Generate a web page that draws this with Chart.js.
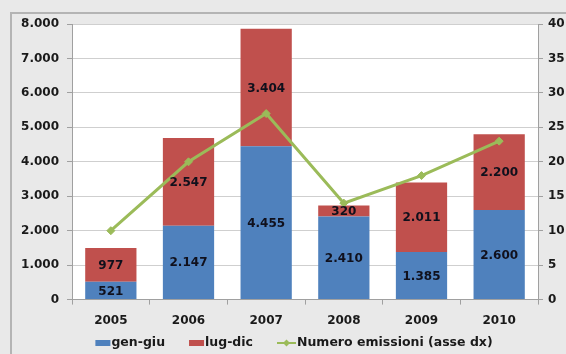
<!DOCTYPE html>
<html lang="it">
<head>
<meta charset="UTF-8">
<title>Emissioni</title>
<script src="https://cdn.jsdelivr.net/npm/chart.js"></script>
<style>
  body { margin: 0; background: #e9e9e9; }
  #wrap { width: 566px; height: 354px; position: relative; }
</style>
</head>
<body>
<div id="wrap"><canvas id="grafico" width="566" height="354"></canvas></div>
<script>
// dati
const anni = ['2005', '2006', '2007', '2008', '2009', '2010'];
const genGiu = [521, 2147, 4455, 2410, 1385, 2600];
const lugDic = [977, 2547, 3404, 320, 2011, 2200];
const numeroEmissioni = [10, 20, 27, 14, 18, 23];

const BLU = '#4f81bd', ROSSO = '#c0504d', VERDE = '#9bbb59';
const FONT = 'DejaVu Sans';

// 1234 -> "1.234"
let formatta = v => String(Math.round(v)).replace(/\B(?=(\d{3})+(?!\d))/g, '.');

// cornice grigia e area del grafico bianca
const sfondo = {
  id: 'sfondo',
  beforeDraw(chart) {
    const ctx = chart.ctx, a = chart.chartArea;
    ctx.save();
    ctx.fillStyle = '#e9e9e9';
    ctx.fillRect(0, 0, chart.width, chart.height);
    ctx.strokeStyle = '#b4b4b4';
    ctx.lineWidth = 2;
    ctx.beginPath();
    ctx.moveTo(11, chart.height);
    ctx.lineTo(11, 13);
    ctx.lineTo(chart.width, 13);
    ctx.stroke();
    ctx.fillStyle = '#ffffff';
    ctx.fillRect(a.left, a.top, a.right - a.left, a.bottom - a.top);
    ctx.restore();
  }
};

// etichette dei valori al centro di ogni segmento
const etichette = {
  id: 'etichette',
  afterDatasetsDraw(chart) {
    const ctx = chart.ctx;
    ctx.save();
    ctx.font = 'bold 12px "' + FONT + '"';
    ctx.fillStyle = '#10101c';
    ctx.textAlign = 'center';
    ctx.textBaseline = 'middle';
    [0, 1].forEach(i => {
      const meta = chart.getDatasetMeta(i);
      meta.data.forEach((bar, j) => {
        const y = (bar.y + bar.base) / 2;
        ctx.fillText(formatta(chart.data.datasets[i].data[j]), bar.x, y + 1);
      });
    });
    ctx.restore();
  }
};

// legenda in basso, disegnata a mano (stile Excel)
const legenda = {
  id: 'legenda',
  afterDraw(chart) {
    const ctx = chart.ctx;
    const y = 343;
    ctx.save();
    ctx.font = 'bold 12.5px "' + FONT + '"';
    ctx.textBaseline = 'middle';
    const voci = chart.data.datasets.map(ds => ({ testo: ds.label, colore: ds.backgroundColor, linea: ds.type === 'line' }));
    const larghezze = voci.map(v => (v.linea ? 20 : 16) + ctx.measureText(v.testo).width);
    const spazio = 24;
    let x = 294 - (larghezze.reduce((s, w) => s + w, 0) + spazio * (voci.length - 1)) / 2;
    voci.forEach((v, i) => {
      if (v.linea) {
        ctx.strokeStyle = v.colore;
        ctx.lineWidth = 2;
        ctx.beginPath();
        ctx.moveTo(x, y); ctx.lineTo(x + 19, y);
        ctx.stroke();
        ctx.fillStyle = v.colore;
        ctx.beginPath();
        ctx.moveTo(x + 9.5, y - 3.5); ctx.lineTo(x + 13, y); ctx.lineTo(x + 9.5, y + 3.5); ctx.lineTo(x + 6, y);
        ctx.closePath();
        ctx.fill();
        ctx.fillStyle = '#1a1a1a';
        ctx.fillText(v.testo, x + 20, y);
      } else {
        ctx.fillStyle = v.colore;
        ctx.fillRect(x, y - 3, 15, 6);
        ctx.fillStyle = '#1a1a1a';
        ctx.fillText(v.testo, x + 16, y);
      }
      x += larghezze[i] + spazio;
    });
    ctx.restore();
  }
};

const ctx = document.getElementById('grafico').getContext('2d');
const grafico = new Chart(ctx, {
  data: {
    labels: anni,
    datasets: [
      { type: 'bar', label: 'gen-giu', data: genGiu, backgroundColor: BLU, stack: 's', order: 1,
        barPercentage: 0.66, categoryPercentage: 1 },
      { type: 'bar', label: 'lug-dic', data: lugDic, backgroundColor: ROSSO, stack: 's', order: 1,
        barPercentage: 0.66, categoryPercentage: 1 },
      { type: 'line', label: 'Numero emissioni (asse dx)', data: numeroEmissioni, yAxisID: 'y1',
        borderColor: VERDE, backgroundColor: VERDE, borderWidth: 3, pointStyle: 'rectRot',
        pointRadius: 4, pointBorderWidth: 1, order: 0 }
    ]
  },
  options: {
    responsive: false,
    animation: false,
    layout: { padding: { left: 11, right: 0, top: 24, bottom: 17 } },
    plugins: {
      legend: { display: false },
      tooltip: { enabled: false }
    },
    scales: {
      x: {
        stacked: true,
        grid: { drawOnChartArea: false, drawTicks: true, tickLength: 5, color: '#a0a0a0' },
        border: { color: '#a0a0a0' },
        ticks: { font: { family: FONT, size: 12, weight: 'bold' }, color: '#1a1a1a', padding: 9 }
      },
      y: {
        stacked: true,
        min: 0, max: 8000,
        afterFit(scale) { scale.width = 61; },
        grid: { color: '#cfcfcf', tickLength: 5, tickColor: '#a0a0a0' },
        border: { color: '#a0a0a0' },
        ticks: { stepSize: 1000, callback: v => formatta(v),
          font: { family: FONT, size: 12, weight: 'bold' }, color: '#1a1a1a', padding: 8 }
      },
      y1: {
        position: 'right',
        min: 0, max: 40,
        afterFit(scale) { scale.width = 28; },
        grid: { drawOnChartArea: false, tickLength: 5, color: '#a0a0a0' },
        border: { color: '#a0a0a0' },
        ticks: { stepSize: 5, font: { family: FONT, size: 12, weight: 'bold' }, color: '#1a1a1a', padding: 5 }
      }
    }
  },
  plugins: [sfondo, etichette, legenda]
});
</script>
</body>
</html>
